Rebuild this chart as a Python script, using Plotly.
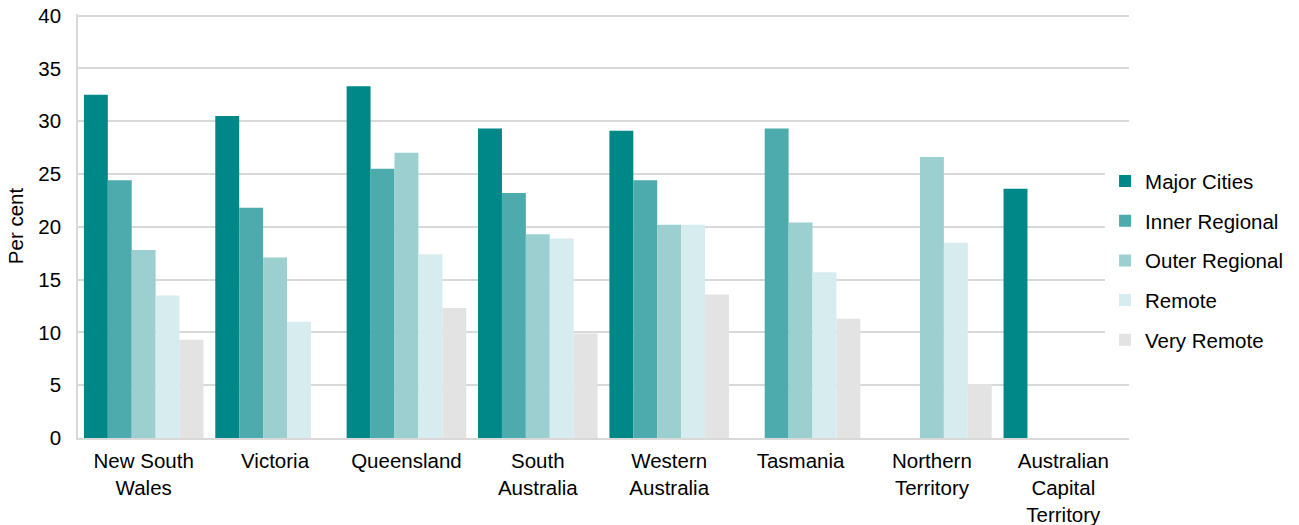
import plotly.graph_objects as go

categories = ["New South<br>Wales", "Victoria", "Queensland", "South<br>Australia",
              "Western<br>Australia", "Tasmania", "Northern<br>Territory",
              "Australian<br>Capital<br>Territory"]
series_names = ["Major Cities", "Inner Regional", "Outer Regional", "Remote", "Very Remote"]
major_cities = [32.5, 30.5, 33.3, 29.3, 29.1, None, None, 23.6]
inner_regional = [24.4, 21.8, 25.5, 23.2, 24.4, 29.3, None, None]
outer_regional = [17.8, 17.1, 27.0, 19.3, 20.2, 20.4, 26.6, None]
remote = [13.5, 11.0, 17.4, 18.9, 20.2, 15.7, 18.5, None]
very_remote = [9.3, None, 12.3, 9.9, 13.6, 11.3, 5.1, None]
colors = ["#008788", "#4EABAD", "#9CD0D0", "#D7ECEE", "#E3E3E3"]
y_ticks = [0, 5, 10, 15, 20, 25, 30, 35, 40]

fig = go.Figure()
for name, vals, col in zip(series_names,
                           [major_cities, inner_regional, outer_regional, remote, very_remote],
                           colors):
    fig.add_trace(go.Bar(x=categories, y=vals, name=name, marker_color=col,
                         marker_line_width=0, legendgroup=name))

fig.update_layout(
    width=1299, height=525,
    barmode="group", bargap=0.09, bargroupgap=0,
    plot_bgcolor="white", paper_bgcolor="white",
    font=dict(family="Liberation Sans, Arial, sans-serif", size=20.5, color="#000000"),
    margin=dict(l=78, r=169, t=14, b=87),
    legend=dict(x=0.9763, xanchor="left", y=0.418, yanchor="middle",
                traceorder="grouped", tracegroupgap=10, itemwidth=30,
                font=dict(size=20.5)),
    showlegend=True,
)
fig.update_yaxes(range=[0, 40.15], tickvals=y_ticks, showgrid=True, gridcolor="#D9D9D9",
                 gridwidth=1.5, showline=True, linecolor="#D9D9D9", linewidth=1.5,
                 zeroline=False, ticks="", automargin=False, ticklabeloverflow="allow",
                 title=dict(text="Per cent", standoff=9, font=dict(size=20.5)),
                 ticklabelstandoff=11)
fig.update_xaxes(showline=True, linecolor="#D9D9D9", linewidth=1.5, ticks="",
                 showgrid=False, automargin=False, ticklabelstandoff=4)

fig.write_html("out.html", config={"displayModeBar": False},
               post_script="document.body.style.margin='0';")
